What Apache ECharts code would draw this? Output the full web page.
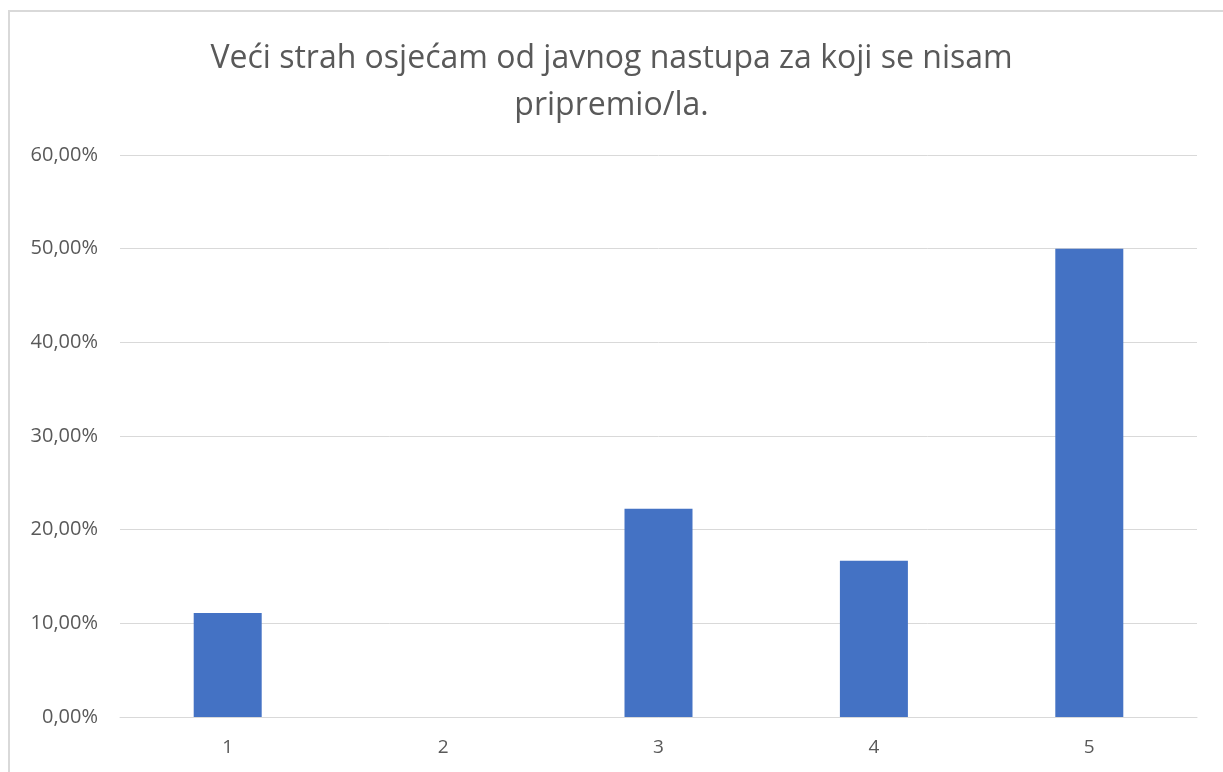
<!DOCTYPE html>
<html>
<head>
<meta charset="utf-8">
<script src="https://cdn.jsdelivr.net/npm/echarts@6/dist/echarts.min.js"></script>
<style>
    html, body { margin: 0; padding: 0; background: #fff; overflow: hidden; }
    #frame {
        position: absolute; left: 8px; top: 10px; width: 1300px; height: 900px;
        border-left: 2px solid #d9d9d9; border-top: 2px solid #d9d9d9;
    }
    #chart { position: absolute; left: 0; top: 0; width: 1223px; height: 772px; }
</style>
</head>
<body>
<div id="frame"></div>
<div id="chart"></div>
<script>
// 数据
var titleText = 'Veći strah osjećam od javnog nastupa za koji se nisam\npripremio/la.';
var categories = ['1', '2', '3', '4', '5'];
var values = [11.11, 0, 22.22, 16.67, 50.00]; // 百分比

var chart = echarts.init(document.getElementById('chart'));

var option = {
    animation: false,
    title: {
        text: titleText,
        left: 'center',
        top: 30,
        textStyle: {
            color: '#595959',
            fontFamily: 'Open Sans',
            fontWeight: 'normal',
            fontSize: 32,
            lineHeight: 47
        }
    },
    grid: {
        left: 120,
        right: 26,
        top: 155,
        bottom: 55
    },
    xAxis: {
        type: 'category',
        data: categories,
        axisLine: { lineStyle: { color: '#d9d9d9', width: 1 } },
        axisTick: { show: false },
        axisLabel: {
            color: '#595959',
            fontFamily: 'Open Sans',
            fontSize: 19,
            margin: 21
        }
    },
    yAxis: {
        type: 'value',
        min: 0,
        max: 60,
        interval: 10,
        axisLine: { show: false },
        axisTick: { show: false },
        splitLine: { lineStyle: { color: '#d9d9d9', width: 1 } },
        axisLabel: {
            color: '#595959',
            fontFamily: 'Open Sans',
            fontSize: 20,
            margin: 22,
            formatter: function (v) {
                return v.toFixed(2).replace('.', ',') + '%';
            }
        }
    },
    series: [{
        type: 'bar',
        data: values,
        barWidth: 68,
        itemStyle: { color: '#4472c4' }
    }]
};
chart.setOption(option);
</script>
</body>
</html>
